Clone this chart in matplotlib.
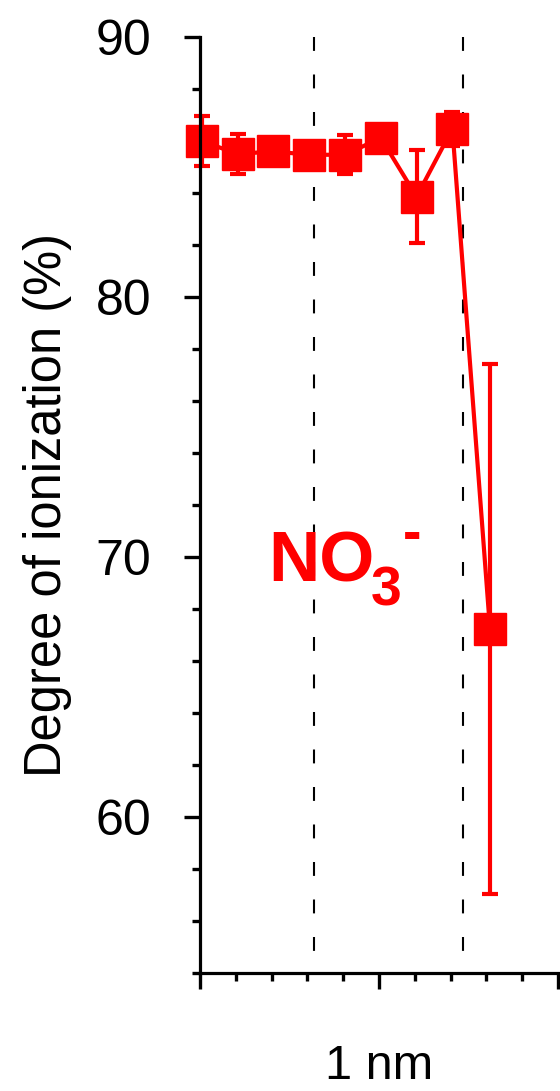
import matplotlib
matplotlib.use("Agg")
import matplotlib.pyplot as plt
from matplotlib.ticker import MultipleLocator, NullFormatter

plt.rcParams['font.family'] = ['Liberation Sans', 'DejaVu Sans']
plt.rcParams['lines.scale_dashes'] = False

# data
positions = [0.05, 1.05, 2.05, 3.05, 4.05, 5.05, 6.05, 7.05, 8.1]
ionization = [86.0, 85.5, 85.6, 85.47, 85.47, 86.12, 83.86, 86.47, 67.24]
errors = [0.95, 0.78, 0.3, 0.3, 0.75, 0.4, 1.8, 0.65, 10.2]
boundaries = [3.18, 7.35]
y_ticks = [60, 70, 80, 90]

W, H = 560, 1091
fig = plt.figure(figsize=(W / 100, H / 100), dpi=100)
ax = fig.add_axes([200 / W, 1 - 973 / H, 358 / W, (973 - 37) / H])

red = '#FF0000'
for b in boundaries:
    ax.axvline(b, ymin=1, ymax=0, color='black', lw=1.5, dashes=(10, 17), zorder=1)

ax.errorbar(positions, ionization, yerr=errors, color=red, marker='s',
            markersize=23, lw=3, elinewidth=3, capsize=6, capthick=3,
            clip_on=False, zorder=3)

ax.set_xlim(0, 10)
ax.set_ylim(54, 90)
ax.set_yticks(y_ticks)
ax.yaxis.set_minor_locator(MultipleLocator(2))
ax.xaxis.set_major_locator(MultipleLocator(5))
ax.xaxis.set_minor_locator(MultipleLocator(1))
ax.xaxis.set_major_formatter(NullFormatter())

for s in ['top', 'right']:
    ax.spines[s].set_visible(False)
for s in ['left', 'bottom']:
    ax.spines[s].set_linewidth(2.3)
    ax.spines[s].set_zorder(4)

ax.tick_params(which='major', length=11.5, width=2.4, direction='out', labelsize=36, pad=23.5)
ax.tick_params(which='minor', length=5.5, width=2.4, direction='out')

ax.set_ylabel('Degree of ionization (%)', fontsize=36.5)
ax.yaxis.set_label_coords(-0.357, 0.5)
ax.set_xlabel('1 nm', fontsize=35)
ax.xaxis.set_label_coords(0.5, -0.076)

# NO3- label
fig.text(268 / W, 1 - 582 / H, 'NO', color=red, fontsize=51, fontweight='bold',
         ha='left', va='baseline')
fig.text(371 / W, 1 - 605 / H, '3', color=red, fontsize=40, fontweight='bold',
         ha='left', va='baseline')
fig.text(403 / W, 1 - 550 / H, '-', color=red, fontsize=40, fontweight='bold',
         ha='left', va='baseline')

fig.savefig('out.png', dpi=100)
